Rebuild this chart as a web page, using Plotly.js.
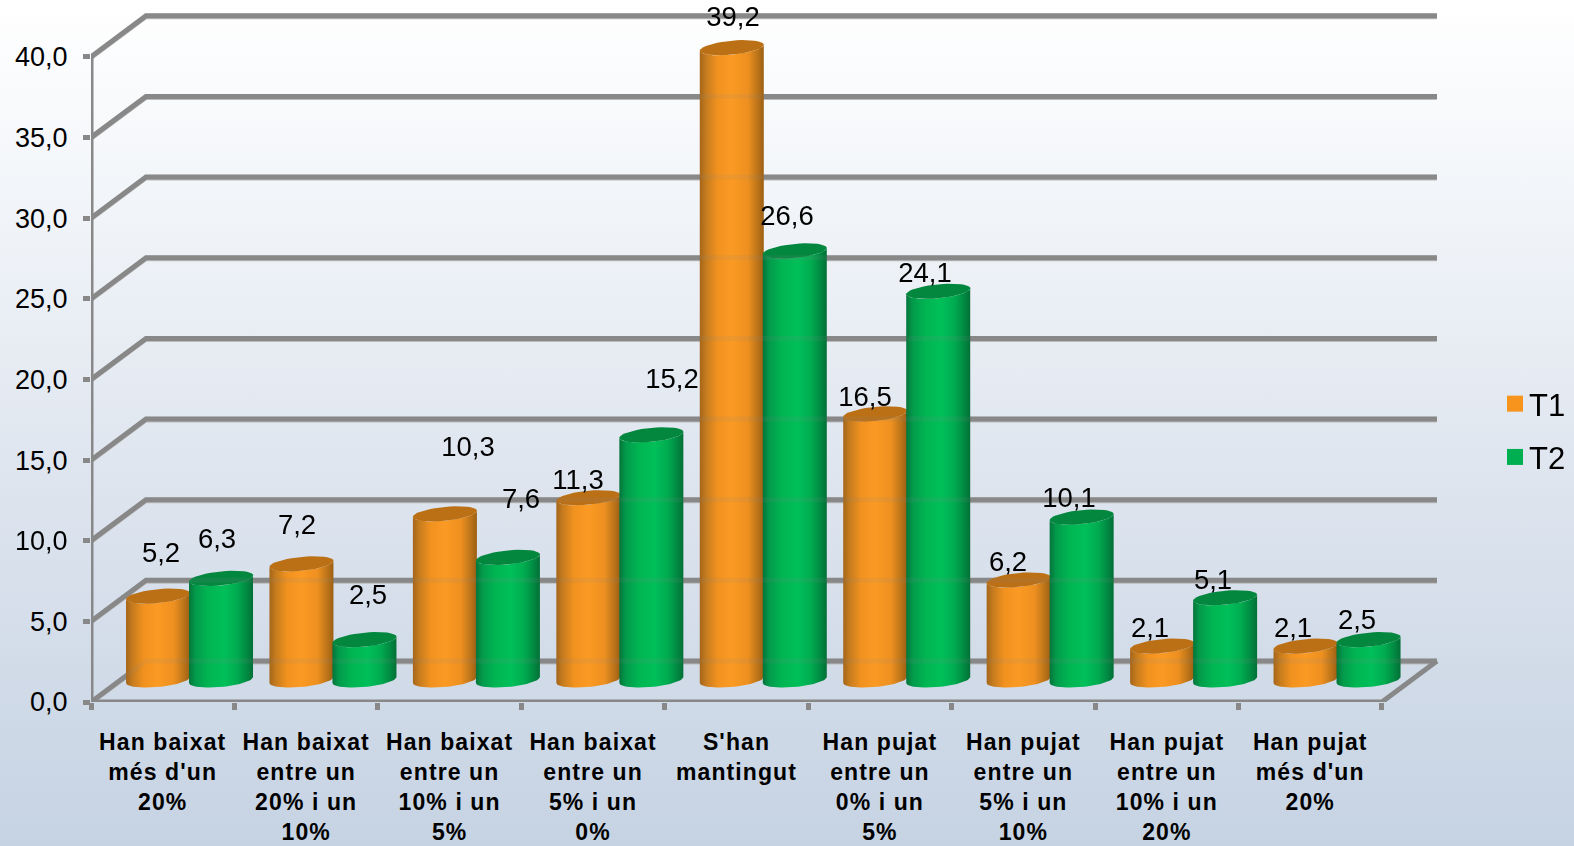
<!DOCTYPE html>
<html>
<head>
<meta charset="utf-8">
<script src="https://cdn.plot.ly/plotly-3.0.1.min.js"></script>
<style>
html,body{margin:0;padding:0;width:1574px;height:846px;overflow:hidden;background:linear-gradient(180deg,#ffffff 0%,#eef2f7 30%,#dde4ee 58%,#c6d3e3 100%);}
#chart{width:1574px;height:846px;}
.xtick text{letter-spacing:1.1px;}
.legendtext{transform:translateX(-6px);}
</style>
</head>
<body>
<div id="chart"></div>
<script>
const categories = [
  "Han baixat<br>més d'un<br>20%",
  "Han baixat<br>entre un<br>20% i un<br>10%",
  "Han baixat<br>entre un<br>10% i un<br>5%",
  "Han baixat<br>entre un<br>5% i un<br>0%",
  "S'han<br>mantingut",
  "Han pujat<br>entre un<br>0% i un<br>5%",
  "Han pujat<br>entre un<br>5% i un<br>10%",
  "Han pujat<br>entre un<br>10% i un<br>20%",
  "Han pujat<br>més d'un<br>20%"
];
const t1Values = [5.2, 7.2, 10.3, 11.3, 39.2, 16.5, 6.2, 2.1, 2.1];
const t2Values = [6.3, 2.5, 7.6, 15.2, 26.6, 24.1, 10.1, 5.1, 2.5];
const gridValues = [0, 5, 10, 15, 20, 25, 30, 35, 40];

// pixel scale of the axes
const pxX = 143.44, pxY = 16.13, left = 91, bottom = 702;
const plotRight = 1440, plotTop = 10;
const dataX = p => (p - left) / pxX - 0.5;
const dataY = p => (bottom - p) / pxY;

// label centres in picture pixels (the original places them by hand)
const t1LabelPx = [[161,555],[297,527],[468,449],[578,482],[733,19],[865,399],[1008,564],[1150,630],[1293,630]];
const t2LabelPx = [[217,541],[368,597],[521,501],[672,381],[787,218],[925,275],[1069,500],[1213,582],[1357,622]];

const GRID = '#888888', GRID_LIGHT = '#bcbcbc';
const depthX = 55 / pxX, depthY = 41 / pxY;

const traces = [];

// walls and floor
function wallLine(offset, color, width, opacity) {
  const xs = [], ys = [];
  gridValues.forEach(v => {
    xs.push(-0.5, -0.5 + depthX, 8.5 + depthX, null);
    ys.push(v + offset, v + depthY + offset, v + depthY + offset, null);
  });
  traces.push({x: xs, y: ys, mode: 'lines', opacity, line: {color, width}, cliponaxis: false, hoverinfo: 'skip', showlegend: false});
}
wallLine(-2 / pxY, GRID_LIGHT, 3, 1);
wallLine(0, GRID, 5, 1);
traces.push({
  x: [-0.5, -0.5, null, -0.5, 8.5, 8.5 + depthX],
  y: [0, 40, null, 0, 0, depthY],
  mode: 'lines', line: {color: GRID, width: 5}, cliponaxis: false, hoverinfo: 'skip', showlegend: false
});

// cylinders
const orangeBody = [[0,'#a5651a'],[0.1,'#c67c1e'],[0.28,'#f2921f'],[0.5,'#fb9a23'],[0.75,'#ee9020'],[0.9,'#bd7519'],[1,'#9c5f14']];
const greenBody = [[0,'#04743a'],[0.1,'#039a4b'],[0.3,'#00b552'],[0.55,'#00bf59'],[0.75,'#00ac50'],[0.9,'#018a42'],[1,'#036f36']];
const rx = 32 / pxX, ry = 7 / pxY, tilt = 3 / pxY, baseY = 22 / pxY;
const arc = (cx, cy, from, to) => {
  const xs = [], ys = [];
  for (let k = 0; k <= 40; k++) {
    const t = from + (to - from) * k / 40;
    xs.push(cx + rx * Math.cos(t));
    ys.push(cy + tilt * Math.cos(t) + ry * Math.sin(t));
  }
  return [xs, ys];
};
function cylinder(i, value, shift, body, topColor) {
  const cx = i + shift / pxX;
  const yTop = value + baseY;
  const [bx, by] = arc(cx, baseY, Math.PI, 2 * Math.PI);
  const [tx, ty] = arc(cx, yTop, 2 * Math.PI, Math.PI);
  traces.push({
    x: bx.concat(tx), y: by.concat(ty), mode: 'lines', fill: 'toself',
    line: {width: 0}, fillgradient: {type: 'horizontal', colorscale: body},
    hoverinfo: 'skip', showlegend: false
  });
  const [ex, ey] = arc(cx, yTop, 0, 2 * Math.PI);
  traces.push({
    x: ex, y: ey, mode: 'lines', fill: 'toself', fillcolor: topColor,
    line: {width: 0}, hoverinfo: 'skip', showlegend: false
  });
}
categories.forEach((c, i) => {
  cylinder(i, t1Values[i], -4.7, orangeBody, '#bb7016');
  cylinder(i, t2Values[i], 58.3, greenBody, '#03873f');
});

// faint grid bands showing through the cylinders
wallLine(0, GRID, 5, 0.12);

// value labels
const fmt = v => v.toFixed(1).replace('.', ',');
const allLabels = t1LabelPx.concat(t2LabelPx);
traces.push({
  x: allLabels.map(p => dataX(p[0])),
  y: allLabels.map(p => dataY(p[1])),
  text: t1Values.concat(t2Values).map(fmt),
  mode: 'text', textposition: 'middle center',
  textfont: {family: 'Liberation Sans, Arial, sans-serif', size: 27.5, color: '#000'},
  cliponaxis: false, hoverinfo: 'skip', showlegend: false
});

// legend entries
[['T1', '#f7941d'], ['T2', '#00b050']].forEach(([name, color]) => {
  traces.push({x: [null], y: [null], name, legendgroup: name, mode: 'markers',
    marker: {symbol: 'square', size: 16, color}, hoverinfo: 'skip'});
});

const layout = {
  width: 1574, height: 846,
  margin: {l: left, r: 1574 - plotRight, t: plotTop, b: 846 - bottom, pad: 0, autoexpand: false},
  paper_bgcolor: 'rgba(0,0,0,0)', plot_bgcolor: 'rgba(0,0,0,0)',
  separators: ',.',
  font: {family: 'Liberation Sans, Arial, sans-serif', color: '#000'},
  xaxis: {
    range: [-0.5, dataX(plotRight)], showgrid: false, zeroline: false, showline: false,
    tickmode: 'array', tickvals: categories.map((c, i) => i), ticktext: categories,
    ticks: '', tickangle: 0, ticklabelstandoff: 24,
    tickfont: {family: 'Liberation Sans, Arial, sans-serif', size: 23, weight: 'bold', color: '#000'},
    minor: {tickmode: 'array', tickvals: categories.map((c, i) => i - 0.5).concat([8.5]), ticks: 'outside', ticklen: 7, tickwidth: 5, tickcolor: GRID, showgrid: false}
  },
  yaxis: {
    range: [0, dataY(plotTop)], showgrid: false, zeroline: false, showline: false,
    tickmode: 'array', tickvals: gridValues, tickformat: '.1f',
    ticks: 'outside', ticklen: 7, tickwidth: 5, tickcolor: GRID, ticklabelstandoff: 10,
    tickfont: {family: 'Liberation Sans, Arial, sans-serif', size: 27, color: '#000'}
  },
  legend: {
    x: (1495 - left) / (plotRight - left), y: 1 - (377 - plotTop) / (bottom - plotTop),
    xanchor: 'left', yanchor: 'top', bgcolor: 'rgba(0,0,0,0)',
    font: {size: 31, color: '#000'}, itemwidth: 30, tracegroupgap: 10, traceorder: 'grouped'
  }
};
Plotly.newPlot('chart', traces, layout, {displayModeBar: false, staticPlot: true});
</script>
</body>
</html>
